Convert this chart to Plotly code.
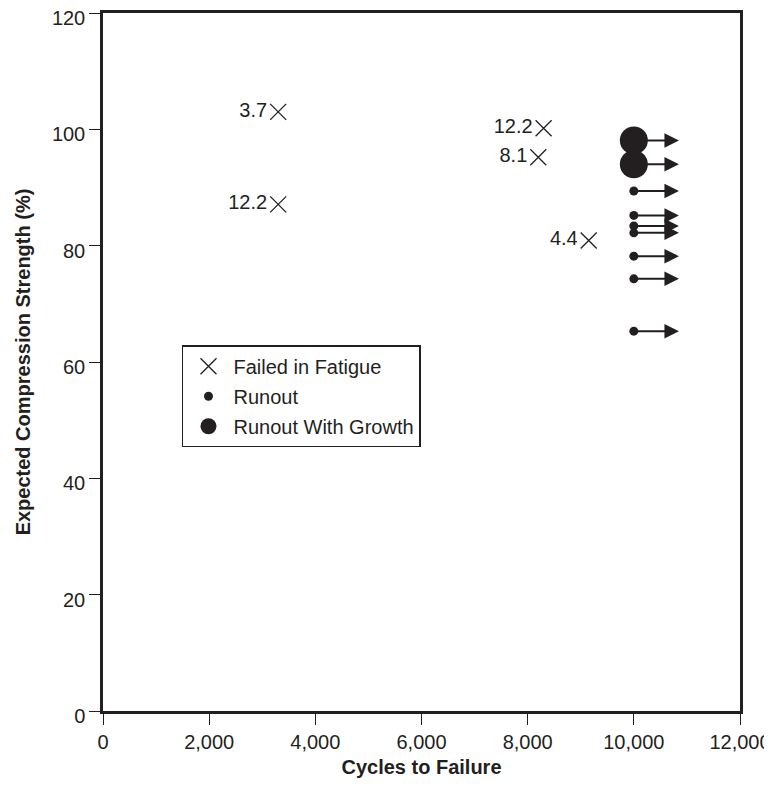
import plotly.graph_objects as go

# Failed in fatigue
fail_x = [3300, 3300, 8300, 8200, 9150]
fail_y = [103.0, 87.1, 100.2, 95.2, 80.9]
fail_lbl = ["3.7", "12.2", "12.2", "8.1", "4.4"]

# Runout
run_x = [10000, 10000, 10000, 10000, 10000, 10000, 10000]
run_y = [89.4, 85.2, 83.4, 82.2, 78.2, 74.3, 65.3]

# Runout with growth
grow_x = [10000, 10000]
grow_y = [98.1, 94.0]

arrow_end = 10850

x_ticks = [0, 2000, 4000, 6000, 8000, 10000, 12000]
y_ticks = [0, 20, 40, 60, 80, 100, 120]

INK = "#231f20"
FONT = "Liberation Sans, Arial, sans-serif"

fig = go.Figure()

fig.add_trace(go.Scatter(
    x=fail_x, y=fail_y, mode="markers+text", name="Failed in Fatigue", legendgroup="a",
    text=fail_lbl, textposition="middle left",
    textfont=dict(size=20, color=INK, family=FONT),
    marker=dict(symbol="x-thin-open", size=16, line=dict(width=1.3, color=INK), color=INK),
))
fig.add_trace(go.Scatter(
    x=run_x, y=run_y, mode="markers", name="Runout", legendgroup="b",
    marker=dict(symbol="circle", size=9, color=INK),
))
fig.add_trace(go.Scatter(
    x=grow_x, y=grow_y, mode="markers", name="Runout With Growth", legendgroup="c",
    marker=dict(symbol="circle", size=28, color=INK),
))

for xv, yv in zip(run_x + grow_x, run_y + grow_y):
    fig.add_annotation(
        x=arrow_end, y=yv, ax=xv, ay=yv, xref="x", yref="y", axref="x", ayref="y",
        text="", showarrow=True, arrowhead=2, arrowsize=1.45, arrowwidth=2.0, arrowcolor=INK,
    )

fig.update_layout(
    width=764, height=770,
    margin=dict(l=95, r=32, t=5, b=67, autoexpand=False),
    paper_bgcolor="white", plot_bgcolor="white",
    font=dict(family=FONT, size=20, color=INK),
    showlegend=True,
    legend=dict(
        x=0.124, y=0.524, xanchor="left", yanchor="top",
        bordercolor=INK, borderwidth=1.5, bgcolor="white",
        font=dict(size=20, color=INK, family=FONT),
        itemsizing="trace", tracegroupgap=1, itemwidth=40,
    ),
    xaxis=dict(
        range=[0, 12000], tickvals=x_ticks, tickformat=",", automargin=False,
        ticklabeloverflow="allow",
        showgrid=False, zeroline=False,
        showline=True, linecolor=INK, linewidth=2.5, mirror=True,
        ticks="outside", ticklen=11, tickwidth=1.3, tickcolor=INK,
        tickfont=dict(size=20, family=FONT, color=INK),
        title=dict(text="<b>Cycles to Failure</b>", font=dict(size=20, family=FONT, color=INK), standoff=16),
    ),
    yaxis=dict(
        range=[0, 120], tickvals=y_ticks, automargin=False,
        ticklabeloverflow="allow", ticklabelshift=5,
        showgrid=False, zeroline=False,
        showline=True, linecolor=INK, linewidth=2.5, mirror=True,
        ticks="outside", ticklen=11, tickwidth=1.3, tickcolor=INK,
        tickfont=dict(size=20, family=FONT, color=INK),
        title=dict(text="<b>Expected Compression Strength (%)</b>", font=dict(size=20, family=FONT, color=INK), standoff=16),
    ),
)

fig.write_html("out.html")
